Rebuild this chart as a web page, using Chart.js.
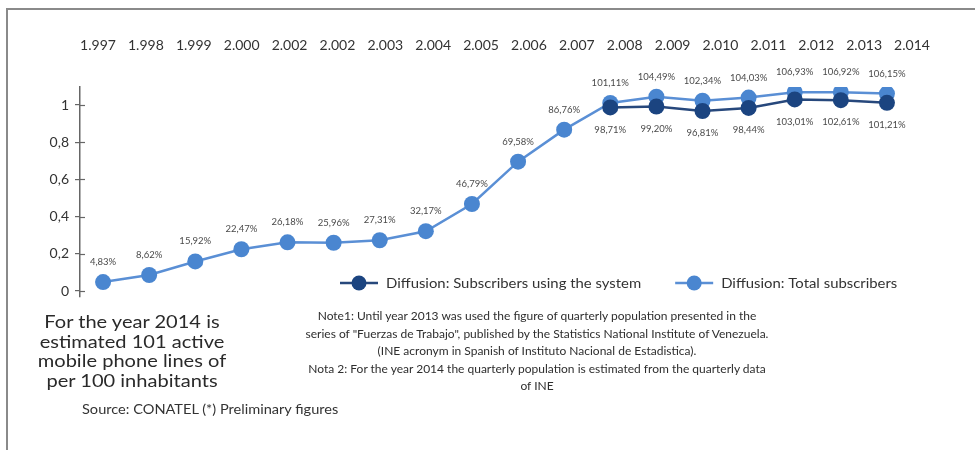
<!DOCTYPE html>
<html>
<head>
<meta charset="utf-8">
<script src="https://cdn.jsdelivr.net/npm/chart.js@4.4.1/dist/chart.umd.min.js"></script>
<style>
  html, body { margin: 0; padding: 0; background: #fff; }
  #wrap { position: relative; width: 975px; height: 450px; overflow: hidden; font-family: Lato, "Open Sans", sans-serif; color: #333; }
  #frame { position: absolute; left: 6px; top: 8px; right: -2px; bottom: -2px; border-top: 2px solid #8a8a8a; border-left: 2px solid #8a8a8a; }
  #chart { position: absolute; left: 0; top: 0; }
  .txt { position: absolute; text-align: center; white-space: nowrap; }
  #estimate { left: 32px; top: 312px; width: 200px; font-size: 17px; line-height: 19.5px; color: #2a2a2a; transform: scaleX(1.18); transform-origin: 100px 0; }
  #notes { left: 290px; top: 307px; width: 494px; font-size: 12px; line-height: 17.6px; color: #2e2e2e; }
  #source { left: 82px; top: 401px; font-size: 13.5px; color: #333; text-align: left; transform: scaleX(1.08); transform-origin: 0 0; }
</style>
</head>
<body>
<div id="wrap">
  <canvas id="chart" width="975" height="450"></canvas>
  <div id="frame"></div>
  <div class="txt" id="estimate">For the year 2014 is<br>estimated 101 active<br>mobile phone lines of<br>per 100 inhabitants</div>
  <div class="txt" id="notes">Note1: Until year 2013 was used the figure of quarterly population presented in the<br>series of "Fuerzas de Trabajo", published by the Statistics National Institute of Venezuela.<br>(INE acronym in Spanish of Instituto Nacional de Estadistica).<br>Nota 2: For the year 2014 the quarterly population is estimated from the quarterly data<br>of INE</div>
  <div class="txt" id="source">Source: CONATEL (*) Preliminary figures</div>
</div>
<script>
// ==== DATA ====
const years = ['1.997', '1.998', '1.999', '2.000', '2.002', '2.002', '2.003', '2.004', '2.005',
  '2.006', '2.007', '2.008', '2.009', '2.010', '2.011', '2.012', '2.013', '2.014'];
const totalSubs = [0.0483, 0.0862, 0.1592, 0.2247, 0.2618, 0.2596, 0.2731, 0.3217, 0.4679,
  0.6958, 0.8676, 1.0111, 1.0449, 1.0234, 1.0403, 1.0693, 1.0692, 1.0615];
const systemSubs = [null, null, null, null, null, null, null, null, null,
  null, null, 0.9871, 0.9920, 0.9681, 0.9844, 1.0301, 1.0261, 1.0121];
const yTicks = [0, 0.2, 0.4, 0.6, 0.8, 1];
const seriesNames = ['Diffusion: Subscribers using the system', 'Diffusion: Total subscribers'];

const darkLine = '#27487c', darkDot = '#1b4480';
const lightLine = '#5a8fd5', lightDot = '#4a86d0';

const pct = v => (v * 100).toFixed(2).replace('.', ',') + '%';

// ==== PLUGINS ====
// small tick marks on the inner side of the y axis
const innerTicks = {
  id: 'innerTicks',
  afterDraw(chart) {
    const c = chart.ctx, y = chart.scales.y, left = chart.chartArea.left;
    c.save();
    c.strokeStyle = '#666';
    c.lineWidth = 1.2;
    yTicks.forEach(v => {
      const py = Math.round(y.getPixelForValue(v)) + 0.5;
      c.beginPath(); c.moveTo(left, py); c.lineTo(left + 5, py); c.stroke();
    });
    c.restore();
  }
};

// percentage labels next to the points
const pointLabels = {
  id: 'pointLabels',
  afterDatasetsDraw(chart) {
    const c = chart.ctx;
    c.save();
    c.font = '9.5px Lato, "Open Sans", sans-serif';
    c.fillStyle = '#4a4a4a';
    c.textAlign = 'center';
    c.textBaseline = 'middle';
    chart.data.datasets.forEach((ds, di) => {
      const meta = chart.getDatasetMeta(di);
      meta.data.forEach((pt, i) => {
        const v = ds.data[i];
        if (v == null) return;
        c.fillText(pct(v), pt.x, pt.y + ds.labelShift);
      });
    });
    c.restore();
  }
};

// legend drawn over the lower part of the plot
const overlayLegend = {
  id: 'overlayLegend',
  afterDraw(chart) {
    const c = chart.ctx;
    const stretch = 1.19;
    let x = 340;
    const y = 283;
    c.save();
    c.font = '12.5px Lato, "Open Sans", sans-serif';
    c.textBaseline = 'middle';
    chart.data.datasets.forEach(ds => {
      c.strokeStyle = ds.borderColor;
      c.lineWidth = 2.5;
      c.beginPath(); c.moveTo(x, y); c.lineTo(x + 38, y); c.stroke();
      c.fillStyle = ds.pointBackgroundColor;
      c.beginPath(); c.arc(x + 19, y, 7.5, 0, Math.PI * 2); c.fill();
      c.fillStyle = '#333';
      const tx = x + 46;
      c.save();
      c.translate(tx, y + 1);
      c.scale(stretch, 1);
      c.fillText(ds.label, 0, 0);
      c.restore();
      x = tx + c.measureText(ds.label).width * stretch + 34;
    });
    c.restore();
  }
};

// ==== CHART ====
const ctx = document.getElementById('chart').getContext('2d');
new Chart(ctx, {
  type: 'line',
  data: {
    labels: years,
    datasets: [
      {
        label: seriesNames[0],
        data: systemSubs,
        borderColor: darkLine,
        backgroundColor: darkDot,
        pointBackgroundColor: darkDot,
        pointBorderColor: darkDot,
        borderWidth: 2.5,
        pointRadius: 8,
        pointBorderWidth: 0,
        tension: 0,
        labelShift: 22
      },
      {
        label: seriesNames[1],
        data: totalSubs,
        borderColor: lightLine,
        backgroundColor: lightDot,
        pointBackgroundColor: lightDot,
        pointBorderColor: lightDot,
        borderWidth: 2.5,
        pointRadius: 8,
        pointBorderWidth: 0,
        tension: 0,
        labelShift: -20
      }
    ]
  },
  options: {
    responsive: false,
    animation: false,
    devicePixelRatio: 1,
    layout: { padding: { left: 0, right: 65, top: 0, bottom: 153 } },
    plugins: { legend: { display: false }, tooltip: { enabled: false } },
    scales: {
      x: { type: 'category', display: false, offset: true },
      xTop: {
        type: 'linear',
        position: 'top',
        min: -0.376,
        max: 16.958,
        grid: { display: false, drawTicks: false },
        border: { display: false },
        afterBuildTicks: s => { s.ticks = years.map((_, i) => ({ value: i })); },
        afterFit: s => { s.height = 87; },
        ticks: {
          autoSkip: false,
          maxRotation: 0,
          padding: 33,
          color: '#333',
          font: { family: 'Lato, "Open Sans", sans-serif', size: 14 },
          callback: (v, i) => years[i]
        }
      },
      y: {
        min: -0.032,
        max: 1.097,
        afterBuildTicks: s => { s.ticks = yTicks.map(v => ({ value: v })); },
        afterFit: s => { s.width = 80; },
        grid: { drawOnChartArea: false, tickLength: 5, color: '#666', lineWidth: 1.2 },
        border: { color: '#666', width: 1.5 },
        ticks: {
          padding: 6,
          color: '#333',
          font: { family: 'Lato, "Open Sans", sans-serif', size: 14 },
          callback: v => String(Math.round(v * 10) / 10).replace('.', ',')
        }
      }
    }
  },
  plugins: [innerTicks, pointLabels, overlayLegend]
});
</script>
</body>
</html>
